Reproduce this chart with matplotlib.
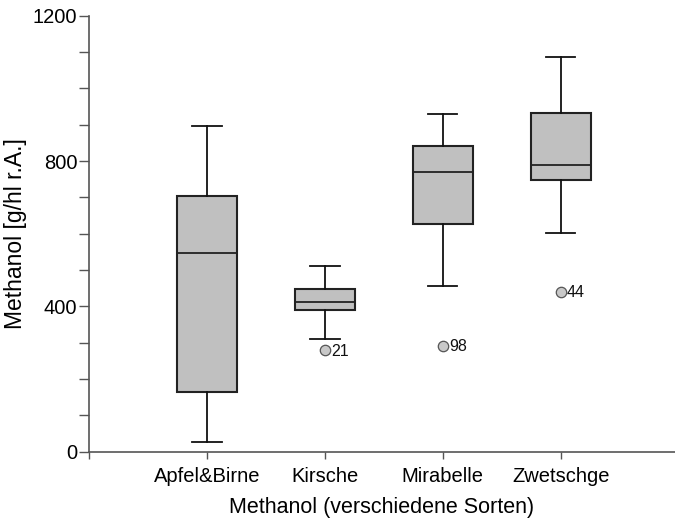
import matplotlib
matplotlib.use("Agg")
import matplotlib.pyplot as plt
from matplotlib.ticker import MultipleLocator

plt.rcParams['font.family'] = ['Liberation Sans', 'DejaVu Sans']

categories = ["Apfel&Birne", "Kirsche", "Mirabelle", "Zwetschge"]
whislo = [26, 311, 457, 601]
q1 = [164, 391, 626, 749]
med = [546, 412, 771, 790]
q3 = [704, 449, 842, 933]
whishi = [895, 510, 929, 1086]
outlier_vals = [[], [279], [292], [440]]
outlier_ids = [[], ["21"], ["98"], ["44"]]

stats = []
for i, c in enumerate(categories):
    stats.append(dict(label=c, whislo=whislo[i], q1=q1[i], med=med[i],
                      q3=q3[i], whishi=whishi[i], fliers=outlier_vals[i]))

fig = plt.figure(figsize=(6.75, 5.19), dpi=100)
ax = fig.add_axes([0.1319, 0.1297, 0.8681, 0.8401])

positions = [1, 2, 3, 4]
ax.bxp(stats, positions=positions, widths=0.51, capwidths=0.25,
       patch_artist=True, showfliers=True,
       boxprops=dict(facecolor="#c0c0c0", edgecolor="#222222", linewidth=1.5),
       medianprops=dict(color="#222222", linewidth=1.3),
       whiskerprops=dict(color="#111111", linewidth=1.3),
       capprops=dict(color="#111111", linewidth=1.3),
       flierprops=dict(marker="o", markersize=7.5, markerfacecolor="#c8c8c8",
                       markeredgecolor="#555555", markeredgewidth=0.9, linestyle="none"))

for i, (vals, ids) in enumerate(zip(outlier_vals, outlier_ids)):
    for v, t in zip(vals, ids):
        ax.annotate(t, xy=(positions[i], v), xytext=(4.5, -0.5), textcoords="offset points",
                    ha="left", va="center", fontsize=11.5, color="#111111")

ax.set_xlim(0, 4.97)
ax.set_ylim(0, 1200)
ax.set_xticks([0, 1, 2, 3, 4])
ax.set_xticklabels(["", *categories])
ax.yaxis.set_major_locator(MultipleLocator(400))
ax.yaxis.set_minor_locator(MultipleLocator(100))

for s in ["top", "right"]:
    ax.spines[s].set_visible(False)
for s in ["left", "bottom"]:
    ax.spines[s].set_color("#555555")
    ax.spines[s].set_linewidth(1.2)

ax.tick_params(axis="y", which="both", direction="out", length=7, width=1.0,
               color="#555555", labelsize=14.5, pad=1.5)
ax.tick_params(axis="x", which="both", direction="out", length=5, width=1.0,
               color="#555555", labelsize=14.5, pad=6)

ax.set_xlabel("Methanol (verschiedene Sorten)", fontsize=15.5, labelpad=8)
ax.set_ylabel("Methanol [g/hl r.A.]", fontsize=16.5, labelpad=4)
ax.spines['left'].set_bounds(0, 1200)

fig.savefig("out.png", dpi=100)
